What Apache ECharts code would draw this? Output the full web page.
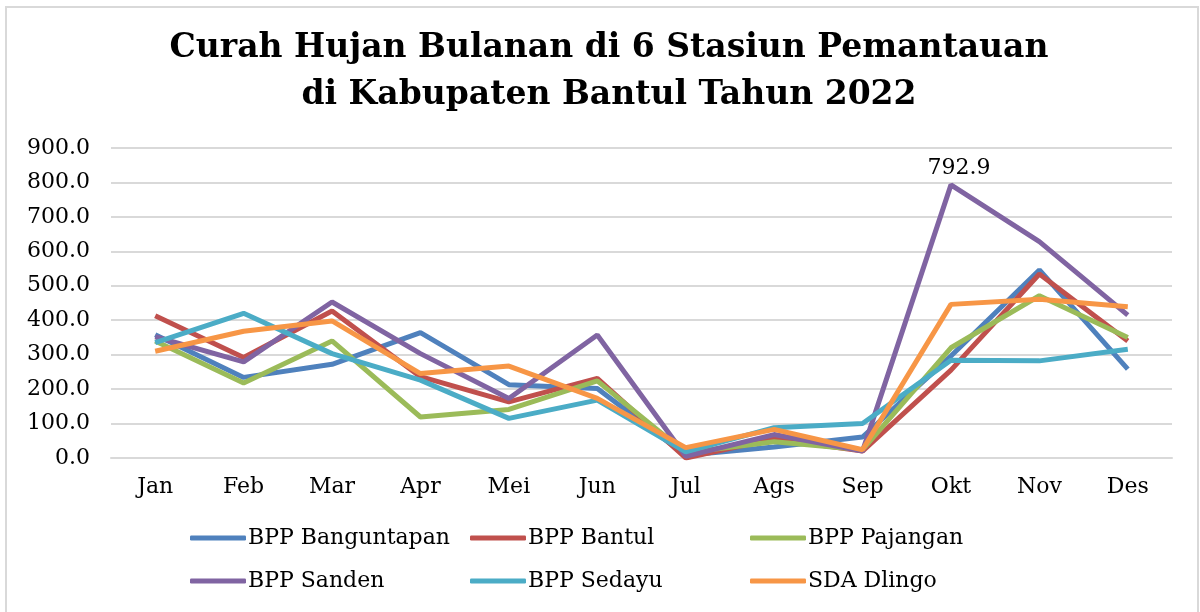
<!DOCTYPE html>
<html>
<head>
<meta charset="utf-8">
<script src="https://cdn.jsdelivr.net/npm/echarts@6/dist/echarts.min.js"></script>
<style>
  html, body { margin: 0; padding: 0; background: #fff; }
  #chart { width: 1200px; height: 612px; }
</style>
</head>
<body>
<div id="chart"></div>
<script>
const months = ['Jan', 'Feb', 'Mar', 'Apr', 'Mei', 'Jun', 'Jul', 'Ags', 'Sep', 'Okt', 'Nov', 'Des'];
const yTicks = [0, 100, 200, 300, 400, 500, 600, 700, 800, 900];

const banguntapan = [358, 234, 272, 364, 213, 202, 8, 32, 61, 296, 546, 258];
const bantul = [413, 292, 427, 236, 163, 231, 0, 56, 20, 255, 534, 340];
const pajangan = [340, 218, 340, 119, 141, 224, 15, 47, 24, 320, 471, 350];
const sanden = [352, 279, 453, 303, 173, 357, 5, 68, 20, 792.9, 628, 415];
const sedayu = [335, 420, 303, 226, 115, 168, 18, 88, 100, 284, 282, 316];
const dlingo = [310, 368, 398, 245, 267, 173, 30, 83, 24, 446, 461, 439];

const names = ['BPP Banguntapan', 'BPP Bantul', 'BPP Pajangan', 'BPP Sanden', 'BPP Sedayu', 'SDA Dlingo'];
const colors = ['#4f81bd', '#c0504d', '#9bbb59', '#8064a2', '#4bacc6', '#f79646'];
const values = [banguntapan, bantul, pajangan, sanden, sedayu, dlingo];

const serif = '"DejaVu Serif", serif';

let chart = echarts.init(document.getElementById('chart'));

// legend positions: 3 columns, 2 rows
let legendPos = [
    [190, 527], [470, 527], [750, 527],
    [190, 570], [470, 570], [750, 570]
];
let legends = names.map((n, i) => ({
    data: [n],
    left: legendPos[i][0],
    top: legendPos[i][1],
    icon: 'roundRect',
    itemWidth: 56,
    itemHeight: 5,
    itemGap: 0,
    padding: 0,
    textStyle: { fontFamily: serif, fontSize: 22, color: '#000', padding: [0, 0, 0, -3] }
}));

let option = {
    animation: false,
    backgroundColor: '#fff',
    color: colors,
    title: {
        text: 'Curah Hujan Bulanan di 6 Stasiun Pemantauan\ndi Kabupaten Bantul Tahun 2022',
        left: 604,
        top: 20,
        textAlign: 'center',
        textStyle: {
            fontFamily: serif,
            fontWeight: 'bold',
            fontSize: 33,
            lineHeight: 47,
            color: '#000'
        }
    },
    legend: legends,
    graphic: [{
        type: 'rect',
        shape: { x: 6, y: 7, width: 1192, height: 620 },
        style: { fill: 'none', stroke: '#d9d9d9', lineWidth: 2 },
        silent: true
    }],
    grid: { left: 111, right: 28, top: 148, bottom: 154 },
    xAxis: {
        type: 'category',
        data: months,
        axisLine: { lineStyle: { color: '#d9d9d9', width: 2 } },
        axisTick: { show: false },
        axisLabel: { fontFamily: serif, fontSize: 22, color: '#000', margin: 18 }
    },
    yAxis: {
        type: 'value',
        min: yTicks[0],
        max: yTicks[yTicks.length - 1],
        interval: 100,
        axisLine: { show: false },
        axisTick: { show: false },
        splitLine: { lineStyle: { color: '#d9d9d9', width: 2 } },
        axisLabel: {
            fontFamily: serif, fontSize: 22, color: '#000', margin: 21,
            formatter: (v) => v.toFixed(1)
        }
    },
    series: names.map((n, i) => ({
        name: n,
        type: 'line',
        data: values[i],
        symbol: 'none',
        lineStyle: { width: 5, color: colors[i] },
        itemStyle: { color: colors[i] },
        label: { show: false },
        markPoint: n === 'BPP Sanden' ? {
            symbol: 'circle',
            symbolSize: 0,
            data: [{ coord: [9, 792.9], value: 792.9 }],
            label: {
                show: true,
                position: 'top',
                distance: 6,
                offset: [8, 0],
                fontFamily: serif,
                fontSize: 22,
                color: '#000',
                formatter: (p) => p.value.toFixed(1)
            }
        } : undefined
    }))
};
chart.setOption(option);
</script>
</body>
</html>
